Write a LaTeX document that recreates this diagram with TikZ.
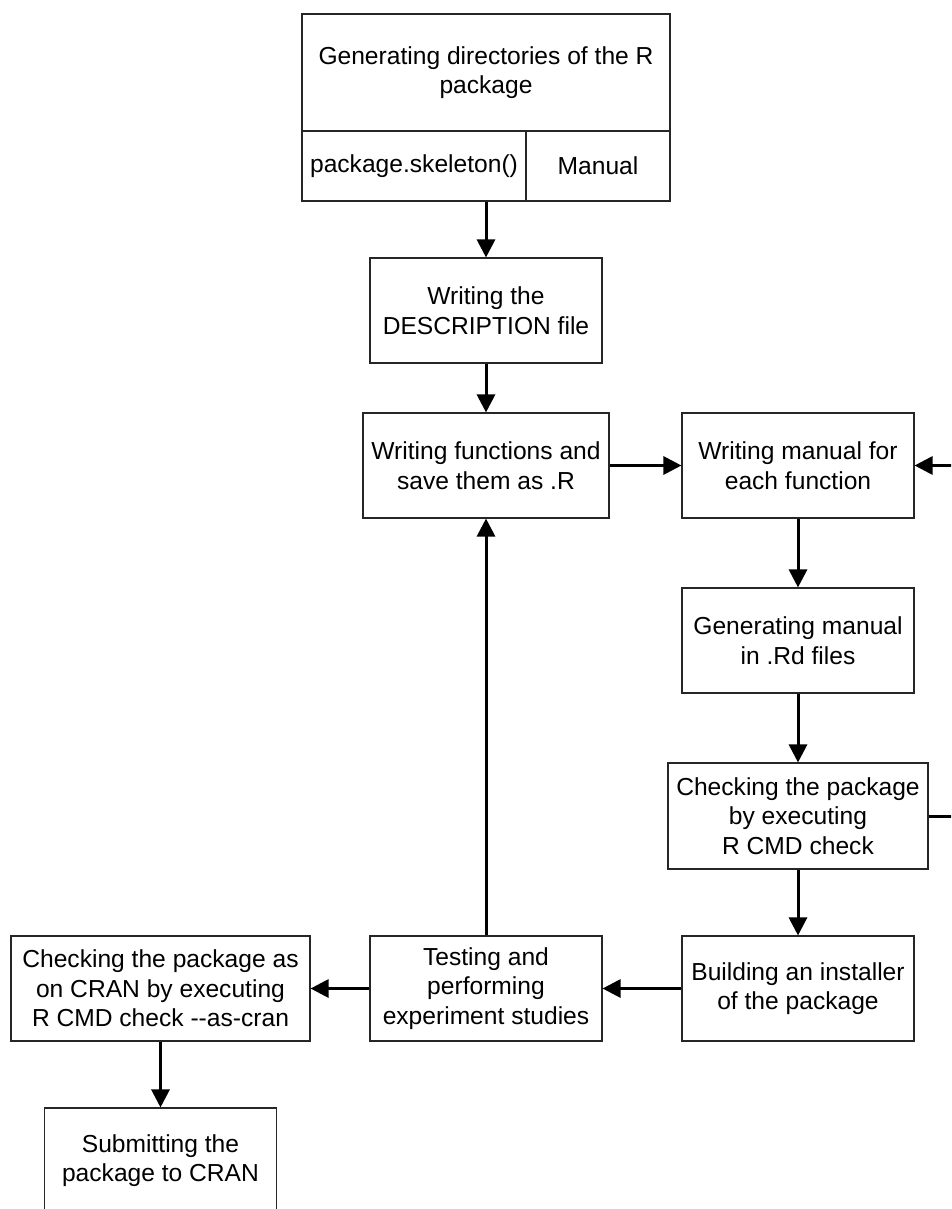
\documentclass[tikz,border=0pt]{standalone}
\usepackage{fontspec}
\setmainfont{Liberation Sans}
\usetikzlibrary{arrows.meta}
\begin{document}
\begin{tikzpicture}[x=1pt,y=-1pt,
  stepbox/.style={draw=black!85, line width=1.1pt, align=center, inner sep=0pt,
    font=\fontsize{24.6}{29.5}\selectfont},
  flow/.style={line width=3pt, -{Triangle[length=18pt,width=18pt]}}]
\useasboundingbox (0,0) rectangle (951,1209);
\clip (0,0) rectangle (951,1209);

% header box with its two sub-cells
\node[stepbox, minimum width=368pt, minimum height=117pt] (gen) at (486,72.5)
  {Generating directories of the R\\package};
\node[stepbox, minimum width=224pt, minimum height=70pt] (skel) at (414,166)
  {package.skeleton()};
\node[stepbox, minimum width=144pt, minimum height=70pt] (manual) at (598,166)
  {Manual};

% main process steps
\node[stepbox, minimum width=232pt, minimum height=105pt] (desc) at (486,310.5)
  {Writing the\\DESCRIPTION file};
\node[stepbox, minimum width=246pt, minimum height=105pt] (func) at (486,465.5)
  {Writing functions and\\save them as .R};
\node[stepbox, minimum width=232pt, minimum height=105pt] (man) at (798,465.5)
  {Writing manual for\\each function};
\node[stepbox, minimum width=232pt, minimum height=105pt] (rd) at (798,640.5)
  {Generating manual\\in .Rd files};
\node[stepbox, minimum width=260pt, minimum height=106pt] (check) at (798,816)
  {Checking the package\\by executing\\R CMD check};
\node[stepbox, minimum width=232pt, minimum height=105pt] (build) at (798,988.5)
  {Building an installer\\of the package};
\node[stepbox, minimum width=232pt, minimum height=105pt] (test) at (486,988.5)
  {Testing and\\performing\\experiment studies};
\node[stepbox, minimum width=299pt, minimum height=105pt] (cran) at (160.5,988.5)
  {Checking the package as\\on CRAN by executing\\R CMD check -{}-as-cran};
\node[stepbox, minimum width=232pt, minimum height=105pt] (submit) at (160.5,1160.5)
  {Submitting the\\package to CRAN};

% connectors
\draw[flow] (gen.south |- skel.south) -- (desc.north);
\draw[flow] (desc) -- (func);
\draw[flow] (func) -- (man);
\draw[flow] (man) -- (rd);
\draw[flow] (rd) -- (check);
\draw[flow] (check) -- (build);
\draw[flow] (build) -- (test);
\draw[flow] (test) -- (cran);
\draw[flow] (test) -- (func);
\draw[flow] (cran) -- (submit);
\draw[flow] (check.east) -- ++(40,0) |- (man.east);
\end{tikzpicture}
\end{document}
